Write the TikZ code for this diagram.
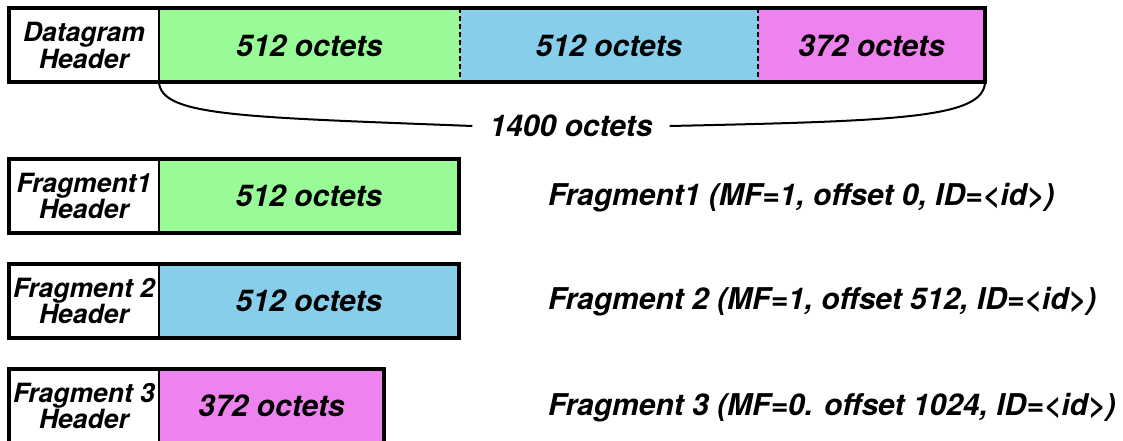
\documentclass[tikz,border=0pt]{standalone}
\usepackage{fontspec}
\setmainfont{TeX Gyre Heros}
\usepackage{xcolor}
\usepackage{tikz}
\usetikzlibrary{positioning}
\definecolor{pktGreen}{HTML}{98FB98}
\definecolor{pktBlue}{HTML}{87CEEB}
\definecolor{pktPink}{HTML}{EE82EE}

\begin{document}
\begin{tikzpicture}[x=1pt,y=-1pt,
  cell/.style={inner sep=0pt,outer sep=0pt,minimum height=74pt,font=\fontsize{30}{30}\selectfont\bfseries\itshape},
  hdr/.style={cell,minimum width=150pt,align=center,font=\fontsize{26.5}{24.5}\selectfont\bfseries\itshape},
  frame/.style={draw,line width=4pt},
  divider/.style={line width=2pt},
  cut/.style={line width=2.2pt,dash pattern=on 5pt off 3pt},
  lbl/.style={anchor=west,inner sep=0pt,font=\fontsize{30}{30}\selectfont\bfseries\itshape}]
\useasboundingbox (0,0) rectangle (1123,441);
% original datagram
\node[hdr] (dh) at (84,45.5) {Datagram\\Header};
\node[cell,fill=pktGreen,minimum width=301pt,right=0pt of dh] (d1) {512 octets};
\node[cell,fill=pktBlue,minimum width=298pt,right=0pt of d1] (d2) {512 octets};
\node[cell,fill=pktPink,minimum width=227pt,right=0pt of d2] (d3) {372 octets};
\draw[cut] (d1.north east) -- (d1.south east);
\draw[cut] (d2.north east) -- (d2.south east);
\draw[divider] (dh.north east) -- (dh.south east);
\draw[frame] (dh.north west) rectangle (d3.south east);
% total length brace
\node[font=\fontsize{30}{30}\selectfont\bfseries\itshape,inner xsep=17pt] (tot) at (571,126) {1400 octets};
\draw[line width=2pt] (dh.south east) .. controls (162,116) and (240,117) .. (tot.west);
\draw[line width=2pt] (tot.east) .. controls (900,121) and (983,118) .. (d3.south east);
% fragments
\node[hdr] (f1h) at (84,196) {Fragment1\\Header};
\node[cell,fill=pktGreen,minimum width=300pt,right=0pt of f1h] (f1) {512 octets};
\draw[divider] (f1h.north east) -- (f1h.south east);
\draw[frame] (f1h.north west) rectangle (f1.south east);
\node[hdr] (f2h) at (84,301) {Fragment 2\\Header};
\node[cell,fill=pktBlue,minimum width=300pt,right=0pt of f2h] (f2) {512 octets};
\draw[divider] (f2h.north east) -- (f2h.south east);
\draw[frame] (f2h.north west) rectangle (f2.south east);
\node[hdr] (f3h) at (84,406) {Fragment 3\\Header};
\node[cell,fill=pktPink,minimum width=225pt,right=0pt of f3h] (f3) {372 octets};
\draw[divider] (f3h.north east) -- (f3h.south east);
\draw[frame] (f3h.north west) rectangle (f3.south east);
% fragment descriptions
\node[lbl] (l1) at (548,198) {Fragment1 (MF=1, offset 0, ID=<id>)};
\node[lbl] (l2) at (548,302) {Fragment 2 (MF=1, offset 512, ID=<id>)};
\node[lbl] (l3) at (548,408) {Fragment 3 (MF=0. offset 1024, ID=<id>)};
\end{tikzpicture}
\end{document}
